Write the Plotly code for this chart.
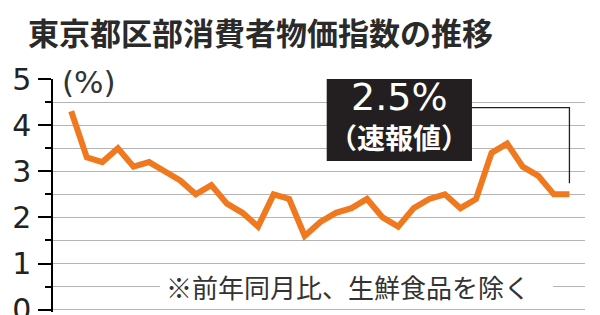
import plotly.graph_objects as go

# ---- data ----
months = [f"{y}年{m}月" for y in (2023, 2024, 2025) for m in range(1, 13)][:33]
cpi = [4.3, 3.3, 3.2, 3.5, 3.1, 3.2, 3.0, 2.8, 2.5, 2.7, 2.3, 2.1, 1.8,
       2.5, 2.4, 1.6, 1.9, 2.1, 2.2, 2.4, 2.0, 1.8, 2.2, 2.4, 2.5,
       2.2, 2.4, 3.4, 3.6, 3.1, 2.9, 2.5, 2.5]
ytick_vals = [0, 1, 2, 3, 4, 5]
ytick_text = ["0", "1", "2", "3", "4", "5"]
title_text = "東京都区部消費者物価指数の推移"
unit_text = "(%)"
note_text = "※前年同月比、生鮮食品を除く"
callout_value = "2.5%"
callout_label = "（速報値）"

ORANGE = "#F0781E"
GRID = "#b4b4b4"
CJK = "Noto Sans CJK JP"
LAT = "DejaVu Sans"

last_i = len(cpi) - 1
last_v = cpi[-1]

fig = go.Figure()
fig.add_trace(go.Scatter(
    x=months, y=cpi, mode="lines",
    line=dict(color=ORANGE, width=6),
    hoverinfo="skip", showlegend=False,
))

shapes = [
    dict(type="rect", xref="paper", yref="y", x0=0.006, x1=0.1316, y0=4.95, y1=5.05,
         fillcolor="white", line=dict(width=0), layer="above"),
    dict(type="rect", xref="paper", yref="y", x0=0.201, x1=0.94, y0=0.45, y1=0.55,
         fillcolor="white", line=dict(width=0), layer="above"),
    dict(type="rect", xref="x", yref="y", x0=16.41, x1=25.74, y0=3.225, y1=5.0,
         fillcolor="#231f20", line=dict(width=0), layer="above"),
    dict(type="path", xref="x", yref="y",
         path=f"M 25.74 4.38 L {last_i} 4.38 L {last_i} {last_v + 0.24}",
         line=dict(color="#231f20", width=1.3), layer="above"),
]

annotations = [
    dict(text=unit_text, xref="paper", yref="y", x=0.014, y=5.0, xanchor="left",
         yanchor="middle", yshift=-3, showarrow=False,
         font=dict(family=LAT, size=31, color="#333")),
    dict(text=note_text, xref="paper", yref="y", x=0.208, y=0.5, xanchor="left",
         yanchor="middle", showarrow=False,
         font=dict(family=CJK, size=26, color="#333")),
    dict(text=callout_value, xref="x", yref="y", x=21.08, y=4.6, xanchor="center",
         yanchor="middle", showarrow=False,
         font=dict(family=LAT, size=38, color="white")),
    dict(text=callout_label, xref="x", yref="y", x=21.06, y=3.745, xanchor="center",
         yanchor="middle", showarrow=False,
         font=dict(family=CJK, size=28, color="white", weight=700)),
]

fig.update_layout(
    width=600, height=315,
    margin=dict(l=53, r=15, t=79, b=2.7, autoexpand=False),
    paper_bgcolor="white", plot_bgcolor="white",
    title=dict(text=title_text, xref="container", yref="container",
               x=28 / 600, y=1 - 34 / 315, xanchor="left", yanchor="middle",
               font=dict(family=CJK, size=31, color="#2a2a2a", weight=700)),
    xaxis=dict(range=[-1.17, 33.0], showticklabels=False, showgrid=False,
               zeroline=False, showline=False, ticks=""),
    yaxis=dict(range=[-0.05, 5], tickvals=ytick_vals, ticktext=ytick_text,
               ticks="outside", ticklen=13, tickwidth=1.5, tickcolor="black",
               showline=True, linecolor="black", linewidth=1.5,
               showgrid=True, gridcolor=GRID, gridwidth=1.2, zeroline=False,
               automargin=False, ticklabelstandoff=1, ticklabeloverflow="allow",
               tickfont=dict(family=LAT, size=30, color="#222"),
               minor=dict(dtick=0.5, tick0=0, ticks="outside", ticklen=6,
                          tickwidth=1.5, tickcolor="black",
                          showgrid=True, gridcolor=GRID, gridwidth=1.2)),
    shapes=shapes, annotations=annotations,
)

fig.write_html("out.html")
